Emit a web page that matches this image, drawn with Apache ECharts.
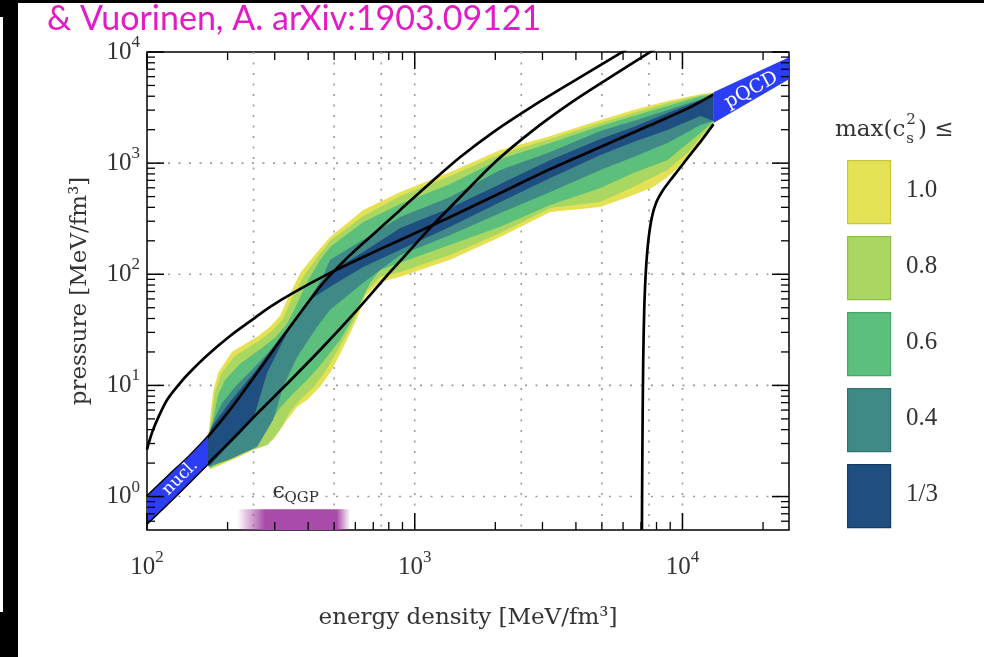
<!DOCTYPE html>
<html>
<head>
<meta charset="utf-8">
<title>pressure vs energy density</title>
<script src="https://cdn.jsdelivr.net/npm/echarts@6/dist/echarts.min.js"></script>
<style>
  html, body { margin: 0; padding: 0; background: #fff; }
  #chart { width: 984px; height: 657px; }
</style>
</head>
<body>
<div id="chart"></div>
<script>
// axes ticks and dotted grid (MeV/fm^3)
const xMajor = [100, 1000, 10000];
const xMinor = [200, 300, 400, 500, 600, 700, 800, 900, 2000, 3000, 4000, 5000, 6000, 7000, 8000, 9000, 20000];
const yMajor = [1, 10, 100, 1000, 10000];
const yMinor = [0.6, 0.7, 0.8, 0.9, 2, 3, 4, 5, 6, 7, 8, 9, 20, 30, 40, 50, 60, 70, 80, 90,
  200, 300, 400, 500, 600, 700, 800, 900, 2000, 3000, 4000, 5000, 6000, 7000, 8000, 9000];
const xGrid = [250, 500, 750, 1000, 2500, 5000, 7500, 10000];
const yGrid = [1, 10, 100, 1000];

// max(c_s^2) levels
const levelNames = ['1.0', '0.8', '0.6', '0.4', '1/3'];
const levelColors = ['#e5e155', '#a9d762', '#5cbf7c', '#3f8a87', '#1f4f80'];
const levelBorders = ['#c9c53e', '#8fbd4b', '#48a766', '#2f7370', '#163c66'];

// band outlines [energy density, pressure]: upper edge left->right, then lower edge back
const band10 = [[169,3.46],[172,4.92],[176.5,8.78],[184.3,13.0],[207.8,20.1],[257.8,27.4],[288.3,33.7],[314.2,42.3],[333.8,58.9],[373.3,102.9],[432,159],[483,217],[642,379],[883,550],[1357,832],[2088,1311],[3210,1752],[4937,2439],[6560,3001],[8789,3614],[11675,4177],[13058,4353],
  [13058,2293],[11675,1613],[10440,1066],[8789,750],[7793,610],[6560,517],[4937,403],[3210,364],[2088,217],[1357,135],[883,94.8],[743,85.4],[653,62.7],[610,40.6],[559,25.7],[513,17.0],[483,13.0],[443,9.73],[397,7.44],[364,6.44],[334,4.92],[296,3.25],[223,2.29],[172,1.75],[169,1.90]];
const band08 = [[169,3.46],[173.5,4.92],[179.6,8.78],[189.1,12.74],[213.3,18.49],[262.3,25.2],[293.3,31.0],[322.5,39.75],[342.4,55.3],[383.1,94.8],[439.5,149.4],[483,200],[642,335],[883,506],[1357,766],[2088,1207],[3210,1646],[4937,2293],[6560,2819],[8789,3467],[11675,4091],[13058,4264],
  [13058,2340],[11675,1716],[10440,1232],[8789,867],[6560,610],[4937,447],[3210,395],[2088,235.5],[1357,149],[883,105],[743,94.8],[653,68.1],[600,40.6],[550,27.4],[504,18.9],[463,13.3],[417,9.53],[373,7.44],[342,5.80],[314,4.0],[283,2.93],[223,2.39],[172,1.79],[169,1.90]];
const band06 = [[169,3.46],[176.5,4.92],[184.3,8.25],[195.7,11.25],[222.7,15.67],[269.1,21.8],[303.5,27.4],[333.8,35.8],[357.5,49.9],[396.5,85.4],[443.4,134.7],[483,176],[642,296],[883,429],[1357,649],[2088,1088],[3210,1516],[4937,2154],[6560,2650],[8789,3259],[11675,4007],[13058,4177],
  [13058,2389],[11675,1864],[8789,1066],[6560,815],[4937,598],[3210,420],[2088,267],[1357,184],[883,127],[743,109.5],[682,83.7],[626,55.3],[574,36.6],[527,25.7],[483,19.7],[436,14.4],[390,10.8],[351,8.42],[314,6.31],[276,3.84],[223,2.64],[172,1.82],[169,1.90]];
const band04 = [[169,3.46],[178,4.92],[190.8,6.99],[215.2,9.94],[246.9,13.84],[283.4,19.67],[322.5,27.4],[360.6,40.6],[406.7,61.4],[451,92.8],[483,135],[642,204],[883,328],[1357,496],[2088,867],[3210,1258],[4937,1943],[6560,2389],[8789,3001],[11675,3766],[13058,4091],
  [13058,2389],[11675,2199],[8789,1516],[6560,1134],[4937,867],[3210,550],[2088,356],[1357,226],[883,149],[642,83.7],[483,47.9],[432,33.7],[364,18.1],[322.5,9.73],[296,4.92],[258,2.81],[204,2.15],[175,1.90],[169,1.90]];
const band033 = [[169,3.46],[175,4.26],[204.3,7.14],[257.8,14.13],[306.2,24.7],[373.3,45.9],[454.9,80.3],[483,105],[642,159],[883,261],[1357,395],[2088,649],[3210,1066],[4937,1646],[6560,2110],[8789,2819],[11675,3689],[13058,4091],
  [13058,2389],[11675,2650],[8789,1984],[6560,1547],[4937,1182],[3210,735],[2088,447],[1357,267],[883,166],[642,116.5],[483,77.1],[406.7,58.9],[333.8,29.75],[281,13.0],[249,4.92],[199,2.81],[172,1.90],[169,1.90]];

// nuclear and pQCD input regions
const nuclBand = [[100,1.0],[121.9,1.577],[144.8,2.336],[169,3.46],[169,1.98],[127.2,1.0],[100,0.572]];
const pqcdBand = [[13058,4353],[25000,8981],[25000,5696],[13058,2293]];

// black curves
const curveA = [[100,2.64],[102,3.15],[105,3.9],[110,5.1],[118.8,7.4],[132.9,10.5],[144.8,13.2],[167.6,18.6],[204.3,27.8],[249.1,39.5],[288.3,50.9],[351.4,68.1],[483.2,102.9],[642,143.3],[882.7,203.8],[1357,328],[2088,538.8],[3210,885],[4937,1395],[7594,2199],[10713,3192],[13058,4150]];
const curveB = [[100,1.0],[121.9,1.577],[144.8,2.336],[169,3.46],[204.3,6.05],[257.8,13.0],[342.4,33.7],[454.9,83.7],[559.3,140.4],[681.7,216.8],[882.7,379],[1142.8,662.5],[1479.7,1134],[1966,1903],[2703,3160],[3814,5245],[5864,9754],[6392,11060]];
const curveC = [[100,0.572],[127.2,1.0],[169,1.98],[204.3,3.12],[257.8,5.57],[342.4,11.02],[454.9,22.27],[609.5,47.9],[809.9,105.1],[882.7,131.9],[1142.8,261.2],[1518,527.9],[2035,1066],[2773,1984],[3814,3467],[5382,5937],[7462,9754],[7930,10600]];
const curveD = [[7056,0.505],[7073,1.42],[7099,4.92],[7136,17.0],[7198,47.9],[7304,109.5],[7462,204],[7691,328],[7994,447],[8419,562],[9019,705],[9914,942],[10805,1232],[11880,1646],[13058,2245]];

// epsilon_QGP strip
const qgpEps = [217, 574];
const qgpP = [0.5, 0.77];

const serif = '"DejaVu Serif", serif';
const numSerif = '"Liberation Serif", serif';

function powLabel(v) {
  const n = Math.round(Math.log10(v));
  if (Math.abs(v - Math.pow(10, n)) > 1e-6 * v) return '';
  return '{b|10}{s|' + n + '}';
}
const powRich = {
  b: { fontFamily: numSerif, fontSize: 25, color: '#333', lineHeight: 36, verticalAlign: 'middle' },
  s: { fontFamily: numSerif, fontSize: 17, color: '#333', lineHeight: 14, verticalAlign: 'top' }
};

function polygonSeries(points, fill, z) {
  return {
    type: 'custom', silent: true, z: z,
    data: [points[0]],
    renderItem: function (params, api) {
      return {
        type: 'polygon',
        shape: { points: points.map(function (p) { return api.coord(p); }) },
        style: { fill: fill }
      };
    }
  };
}

function curveSeries(points) {
  return {
    type: 'line', data: points, showSymbol: false, smooth: 0.3, silent: true, z: 4,
    lineStyle: { color: '#000', width: 2.7 }
  };
}

function xTickSeries(values, len, width) {
  return {
    type: 'custom', silent: true, z: 6,
    data: values.map(function (v) { return [v, 1]; }),
    renderItem: function (params, api) {
      const x = api.coord([api.value(0), 1])[0];
      const cs = params.coordSys;
      const st = { stroke: '#000', lineWidth: width };
      return { type: 'group', children: [
        { type: 'line', shape: { x1: x, y1: cs.y + cs.height, x2: x, y2: cs.y + cs.height - len }, style: st },
        { type: 'line', shape: { x1: x, y1: cs.y, x2: x, y2: cs.y + len }, style: st }
      ] };
    }
  };
}

function yTickSeries(values, len, width) {
  return {
    type: 'custom', silent: true, z: 6,
    data: values.map(function (v) { return [1000, v]; }),
    renderItem: function (params, api) {
      const y = api.coord([1000, api.value(1)])[1];
      const cs = params.coordSys;
      const st = { stroke: '#000', lineWidth: width };
      return { type: 'group', children: [
        { type: 'line', shape: { x1: cs.x, y1: y, x2: cs.x + len, y2: y }, style: st },
        { type: 'line', shape: { x1: cs.x + cs.width, y1: y, x2: cs.x + cs.width - len, y2: y }, style: st }
      ] };
    }
  };
}

const dotted = { stroke: '#9a9a9a', lineWidth: 1.6, lineDash: [2, 8.5] };

const gridXSeries = {
  type: 'custom', silent: true, z: 1,
  data: xGrid.map(function (v) { return [v, 1]; }),
  renderItem: function (params, api) {
    const x = api.coord([api.value(0), 1])[0];
    const cs = params.coordSys;
    return { type: 'line', shape: { x1: x, y1: cs.y, x2: x, y2: cs.y + cs.height }, style: dotted };
  }
};

const gridYSeries = {
  type: 'custom', silent: true, z: 1,
  data: yGrid.map(function (v) { return [1000, v]; }),
  renderItem: function (params, api) {
    const y = api.coord([1000, api.value(1)])[1];
    const cs = params.coordSys;
    return { type: 'line', shape: { x1: cs.x, y1: y, x2: cs.x + cs.width, y2: y }, style: dotted };
  }
};

const qgpSeries = {
  type: 'custom', silent: true, z: 3,
  data: [[qgpEps[0], qgpP[1]]],
  renderItem: function (params, api) {
    const a = api.coord([qgpEps[0], qgpP[1]]);
    const b = api.coord([qgpEps[1], qgpP[0]]);
    const lab = api.coord([294, 1.086]);
    return { type: 'group', children: [
      { type: 'rect', shape: { x: a[0], y: a[1], width: b[0] - a[0], height: b[1] - a[1] },
        style: { fill: new echarts.graphic.LinearGradient(0, 0, 1, 0, [
          { offset: 0, color: 'rgba(169,75,169,0)' },
          { offset: 0.25, color: 'rgba(169,75,169,1)' },
          { offset: 0.88, color: 'rgba(169,75,169,1)' },
          { offset: 1, color: 'rgba(169,75,169,0)' }
        ]) } },
      { type: 'text', x: lab[0], y: lab[1], style: { text: '\u03f5', font: '22px ' + serif, fill: '#333', align: 'left', verticalAlign: 'middle' } },
      { type: 'text', x: lab[0] + 12, y: lab[1] + 6, style: { text: 'QGP', font: '15px ' + serif, fill: '#333', align: 'left', verticalAlign: 'middle' } }
    ] };
  }
};

function bandLabelSeries(at, text, angle, size) {
  return {
    type: 'custom', silent: true, z: 5,
    data: [at],
    renderItem: function (params, api) {
      const p = api.coord(at);
      return { type: 'text', x: p[0], y: p[1], rotation: angle,
        style: { text: text, font: size + 'px ' + serif, fill: '#ffffff', align: 'center', verticalAlign: 'middle' } };
    }
  };
}

// legend title pieces laid out with measured widths
const measure = document.createElement('canvas').getContext('2d');
function textWidth(t, size) { measure.font = size + 'px "DejaVu Serif"'; return measure.measureText(t).width; }
const titleX = 835, titleY = 133;
const wMax = textWidth('max(c', 23);
const wSup = Math.max(textWidth('2', 15), textWidth('s', 15));

const legendGraphics = [
  { type: 'text', left: titleX, top: titleY - 14, style: { text: 'max(c', font: '23px ' + serif, fill: '#333' } },
  { type: 'text', left: titleX + wMax + 1, top: titleY - 20, style: { text: '2', font: '15px ' + serif, fill: '#333' } },
  { type: 'text', left: titleX + wMax + 1, top: titleY - 1, style: { text: 's', font: '15px ' + serif, fill: '#333' } },
  { type: 'text', left: titleX + wMax + wSup + 3, top: titleY - 14, style: { text: ') \u2264', font: '23px ' + serif, fill: '#333' } }
];
levelNames.forEach(function (name, i) {
  legendGraphics.push({ type: 'rect', left: 847, top: 160 + 76 * i, shape: { width: 43, height: 63 },
    style: { fill: levelColors[i], stroke: levelBorders[i], lineWidth: 1.2 } });
  legendGraphics.push({ type: 'text', left: 906, top: 178 + 76 * i, style: { text: name, font: '25px ' + numSerif, fill: '#333' } });
});

const frameGraphics = [
  { type: 'rect', left: 0, top: 0, shape: { width: 984, height: 3 }, style: { fill: '#000' } },
  { type: 'rect', left: 0, top: 0, shape: { width: 18, height: 17 }, style: { fill: '#000' } },
  { type: 'rect', left: 3, top: 0, shape: { width: 15, height: 657 }, style: { fill: '#000' } },
  { type: 'rect', left: 0, top: 612, shape: { width: 18, height: 45 }, style: { fill: '#000' } },
  { type: 'text', left: 47, top: 2, style: { text: '& Vuorinen, A. arXiv:1903.09121', font: '34px Lato', fill: '#e31bc6' } }
];

const chart = echarts.init(document.getElementById('chart'));

const option = {
  animation: false,
  grid: { left: 147, top: 52, width: 642, height: 478, show: true, borderColor: '#000', borderWidth: 1.5, backgroundColor: 'rgba(0,0,0,0)' },
  xAxis: {
    type: 'log', logBase: 10, min: 100, max: 25000,
    name: 'energy density [MeV/fm\u00b3]', nameLocation: 'middle', nameGap: 77,
    nameTextStyle: { fontFamily: serif, fontSize: 23, color: '#333' },
    axisLine: { show: false }, axisTick: { show: false }, splitLine: { show: false },
    axisLabel: { formatter: powLabel, rich: powRich, margin: 19, showMaxLabel: false }
  },
  yAxis: {
    type: 'log', logBase: 10, min: 0.5, max: 10000,
    name: 'pressure [MeV/fm\u00b3]', nameLocation: 'middle', nameGap: 55, nameRotate: 90,
    nameTextStyle: { fontFamily: serif, fontSize: 23, color: '#333' },
    axisLine: { show: false }, axisTick: { show: false }, splitLine: { show: false },
    axisLabel: { formatter: powLabel, rich: powRich, margin: 7, showMinLabel: false }
  },
  graphic: frameGraphics.concat(legendGraphics),
  series: [
    gridXSeries,
    gridYSeries,
    polygonSeries(band10, levelColors[0], 2),
    polygonSeries(band08, levelColors[1], 2),
    polygonSeries(band06, levelColors[2], 2),
    polygonSeries(band04, levelColors[3], 2),
    polygonSeries(band033, levelColors[4], 2),
    qgpSeries,
    curveSeries(curveA),
    curveSeries(curveB),
    curveSeries(curveC),
    curveSeries(curveD),
    polygonSeries(nuclBand, '#2b3ef5', 5),
    polygonSeries(pqcdBand, '#2b3ef5', 5),
    bandLabelSeries([133, 1.48], 'nucl.', Math.PI / 4, 17),
    bandLabelSeries([18100, 4540], 'pQCD', 0.5, 19),
    xTickSeries(xMajor, 17, 1.5),
    xTickSeries(xMinor, 8, 1.3),
    yTickSeries(yMajor, 17, 1.5),
    yTickSeries(yMinor, 8, 1.3)
  ]
};

chart.setOption(option);
</script>
</body>
</html>
